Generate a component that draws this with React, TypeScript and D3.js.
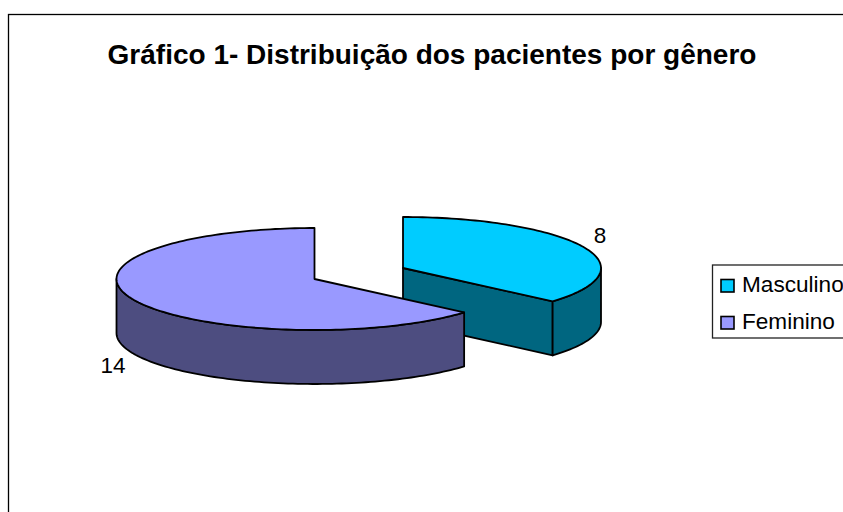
import React from "react";
import * as d3 from "d3";

const title = "Gráfico 1- Distribuição dos pacientes por gênero";
const categories = ["Masculino", "Feminino"];
const values = [8, 14];
const topColors = ["#00CCFF", "#9999FF"];
const sideColors = ["#006680", "#4D4D80"];

const W = 843, H = 512;
const RX = 198, RY = 51, DEPTH = 54;
const centers: [number, number][] = [[403, 268], [314.5, 279]];
const labelPos: [number, number][] = [[600, 243], [113, 373]];

const pieLayout = d3.pie<number>().sort(null).startAngle(0).endAngle(2 * Math.PI);
const lineGen = d3.line<[number, number]>().curve(d3.curveLinear);

function rimPoints(cx: number, cy: number, a0: number, a1: number): [number, number][] {
  const n = Math.max(2, Math.ceil(Math.abs(a1 - a0) * 40));
  const t = d3.scaleLinear().domain([0, n]).range([a0, a1]);
  return d3.range(n + 1).map((i) => [cx + RX * Math.sin(t(i)), cy - RY * Math.cos(t(i))] as [number, number]);
}

const closed = (pts: [number, number][]) => lineGen(pts) + "Z";
const drop = (pts: [number, number][]) => pts.map(([x, y]) => [x, y + DEPTH] as [number, number]);

function Slice({ i, a0, a1 }: { i: number; a0: number; a1: number }) {
  const [cx, cy] = centers[i];
  const rim = rimPoints(cx, cy, a0, a1);
  const top = closed([[cx, cy], ...rim]);
  const v0 = Math.max(a0, Math.PI / 2);
  const v1 = Math.min(a1, (3 * Math.PI) / 2);
  const wallRim = rimPoints(cx, cy, v0, v1);
  const wall = closed([...wallRim, ...drop(wallRim).reverse()]);
  const endPt = rim[rim.length - 1];
  const cutVisible = a1 < Math.PI;
  const cut: [number, number][] = [[cx, cy], endPt];
  const stroke = { stroke: "#000", strokeWidth: 1.8, strokeLinejoin: "round" as const };
  return (
    <g>
      {cutVisible && <path d={closed([...cut, ...drop(cut).reverse()])} fill={sideColors[i]} {...stroke} />}
      <path d={wall} fill={sideColors[i]} {...stroke} />
      <path d={top} fill={topColors[i]} {...stroke} />
    </g>
  );
}

export default function App() {
  const arcs = pieLayout(values);
  return (
    <svg width={W} height={H} style={{ position: "absolute", left: 0, top: 0, background: "#fff" }}
      fontFamily="'Liberation Sans', Arial, sans-serif">
      <rect x={8.5} y={14.5} width={W} height={H} fill="#fff" stroke="#000" strokeWidth={1.3} />
      <text x={432} y={64} textAnchor="middle" fontSize={28} fontWeight="bold" fill="#000">{title}</text>
      {arcs.map((a) => (
        <Slice key={a.index} i={a.index} a0={a.startAngle} a1={a.endAngle} />
      ))}
      {arcs.map((a) => (
        <text key={a.index} x={labelPos[a.index][0]} y={labelPos[a.index][1]} textAnchor="middle" fontSize={22.5} fill="#000">
          {values[a.index]}
        </text>
      ))}
      <rect x={712.5} y={265} width={W} height={73} fill="#fff" stroke="#222" strokeWidth={1.3} />
      {categories.map((c, i) => (
        <g key={c}>
          <rect x={721} y={279.5 + i * 37} width={13} height={12.5} fill={topColors[i]} stroke="#000" strokeWidth={1.6} />
          <text x={742} y={292 + i * 37} fontSize={22.6} fill="#000">{c}</text>
        </g>
      ))}
    </svg>
  );
}
